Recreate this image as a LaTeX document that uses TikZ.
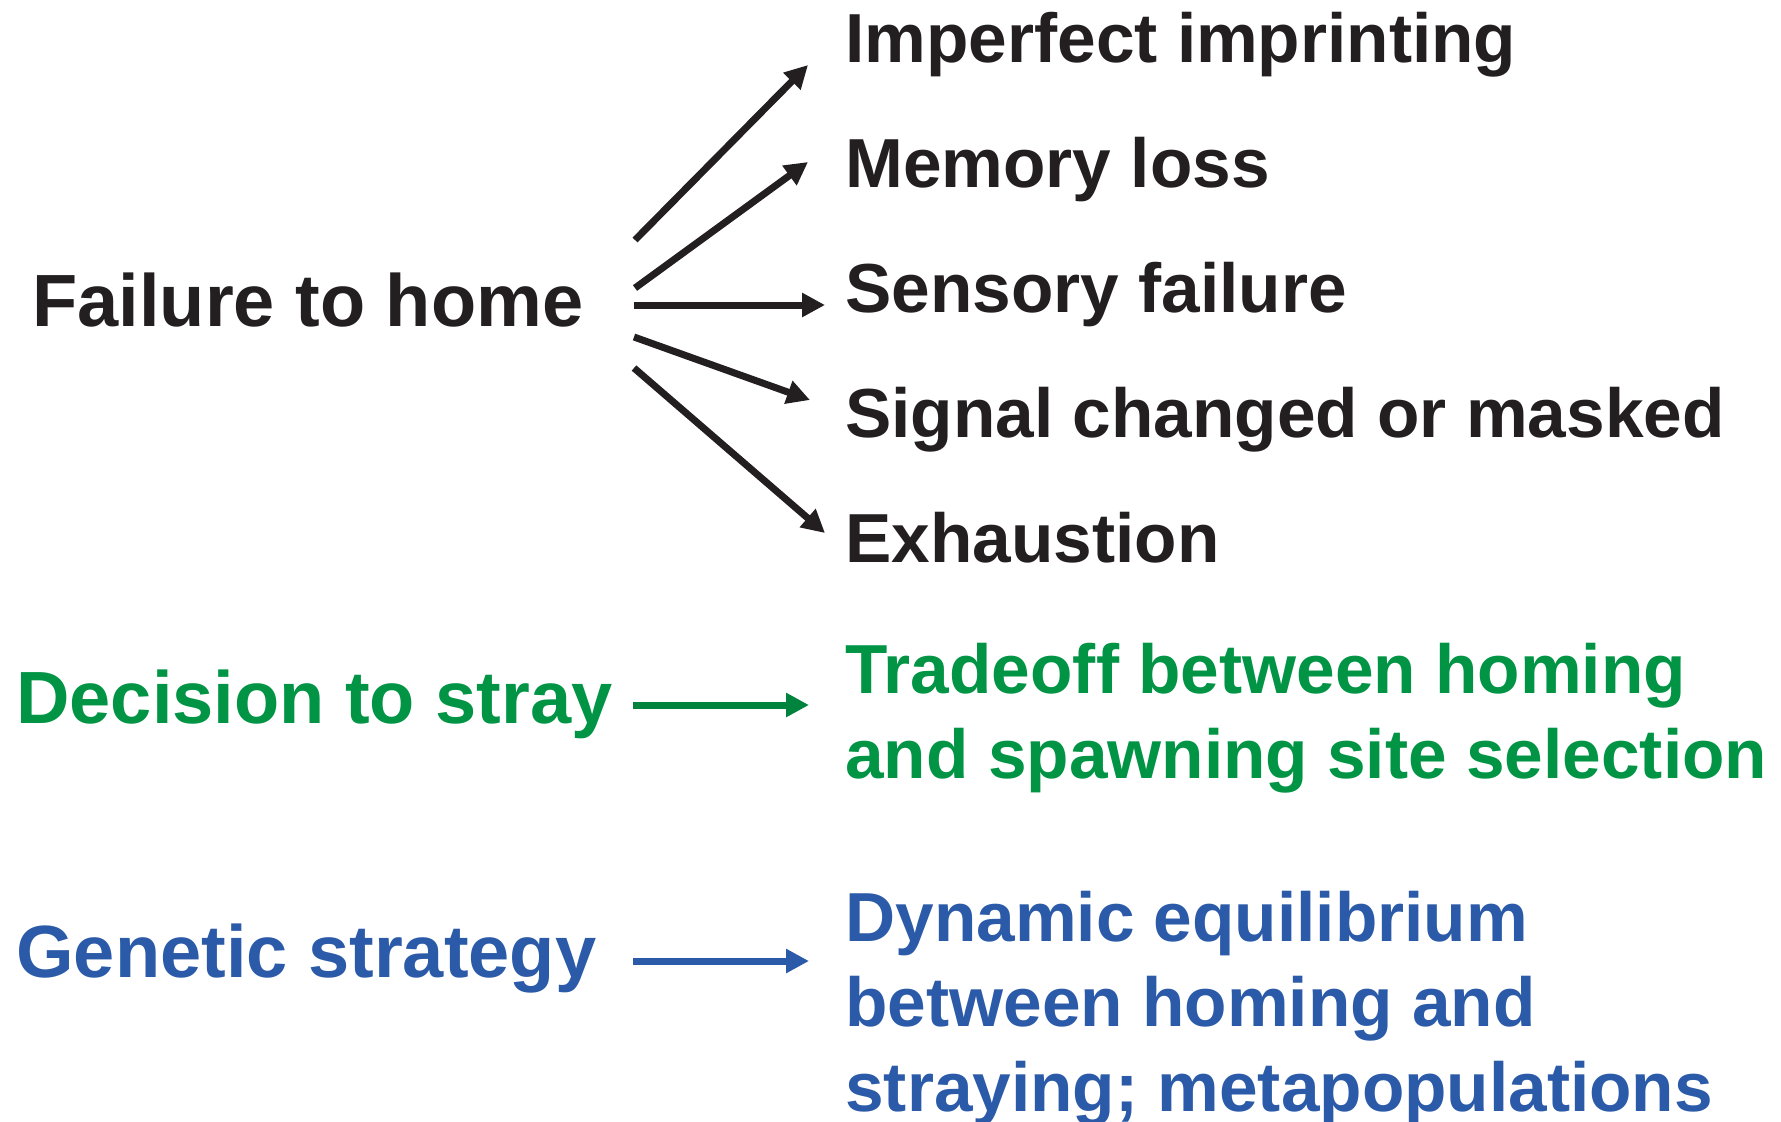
\documentclass[tikz,border=0pt]{standalone}
\usepackage{fontspec}
\setmainfont{Liberation Sans}
\usepackage{tikz}
\usetikzlibrary{arrows.meta}
\definecolor{ink}{HTML}{231F20}
\definecolor{stray}{HTML}{009444}
\definecolor{strayar}{HTML}{00843D}
\definecolor{gene}{HTML}{2B5BA8}

\begin{document}
\begin{tikzpicture}[x=0.5pt,y=-0.5pt,
  cause/.style={anchor=base west,inner sep=0pt,font=\fontsize{37}{42}\selectfont\bfseries},
  why/.style={anchor=base west,inner sep=0pt,align=left,font=\fontsize{34.7}{42.5}\selectfont\bfseries},
  ar/.style={-{Triangle[length=11.5pt,width=11.5pt]},line width=3.5pt},
]
\useasboundingbox (0,0) rectangle (1781,1121);

% left column
\node[cause,color=ink]   (fail) at (32,326) {Failure to home};
\node[cause,color=stray] (dec)  at (16,723) {Decision to stray};
\node[cause,color=gene]  (gen)  at (16,977) {Genetic strategy};

% right column (multi-line nodes sit on their last line)
\node[why,color=ink] (r1) at (845,62)  {Imperfect imprinting};
\node[why,color=ink] (r2) at (845,187) {Memory loss};
\node[why,color=ink] (r3) at (845,312) {Sensory failure};
\node[why,color=ink] (r4) at (845,437) {Signal changed or masked};
\node[why,color=ink] (r5) at (845,562) {Exhaustion};
\node[why,color=stray] (tr) at (845,778) {Tradeoff between homing\\and spawning site selection};
\node[why,color=gene]  (dy) at (845,1111) {Dynamic equilibrium\\between homing and\\straying; metapopulations};

% arrow ends
\coordinate (f1) at (635,240); \coordinate (h1) at (808,65);
\coordinate (f2) at (635,288); \coordinate (h2) at (808,162);
\coordinate (f3) at (634,305); \coordinate (h3) at (825,305);
\coordinate (f4) at (634,337); \coordinate (h4) at (810,400);
\coordinate (f5) at (634,368); \coordinate (h5) at (825,533);
\coordinate (d0) at (633,705); \coordinate (d1) at (809,705);
\coordinate (g0) at (633,961); \coordinate (g1) at (809,961);

\foreach \i in {1,...,5}
  \draw[ar,draw=ink,fill=ink] (f\i) -- (h\i);
\draw[ar,draw=strayar,fill=strayar] (d0) -- (d1);
\draw[ar,draw=gene,fill=gene] (g0) -- (g1);
\end{tikzpicture}
\end{document}
